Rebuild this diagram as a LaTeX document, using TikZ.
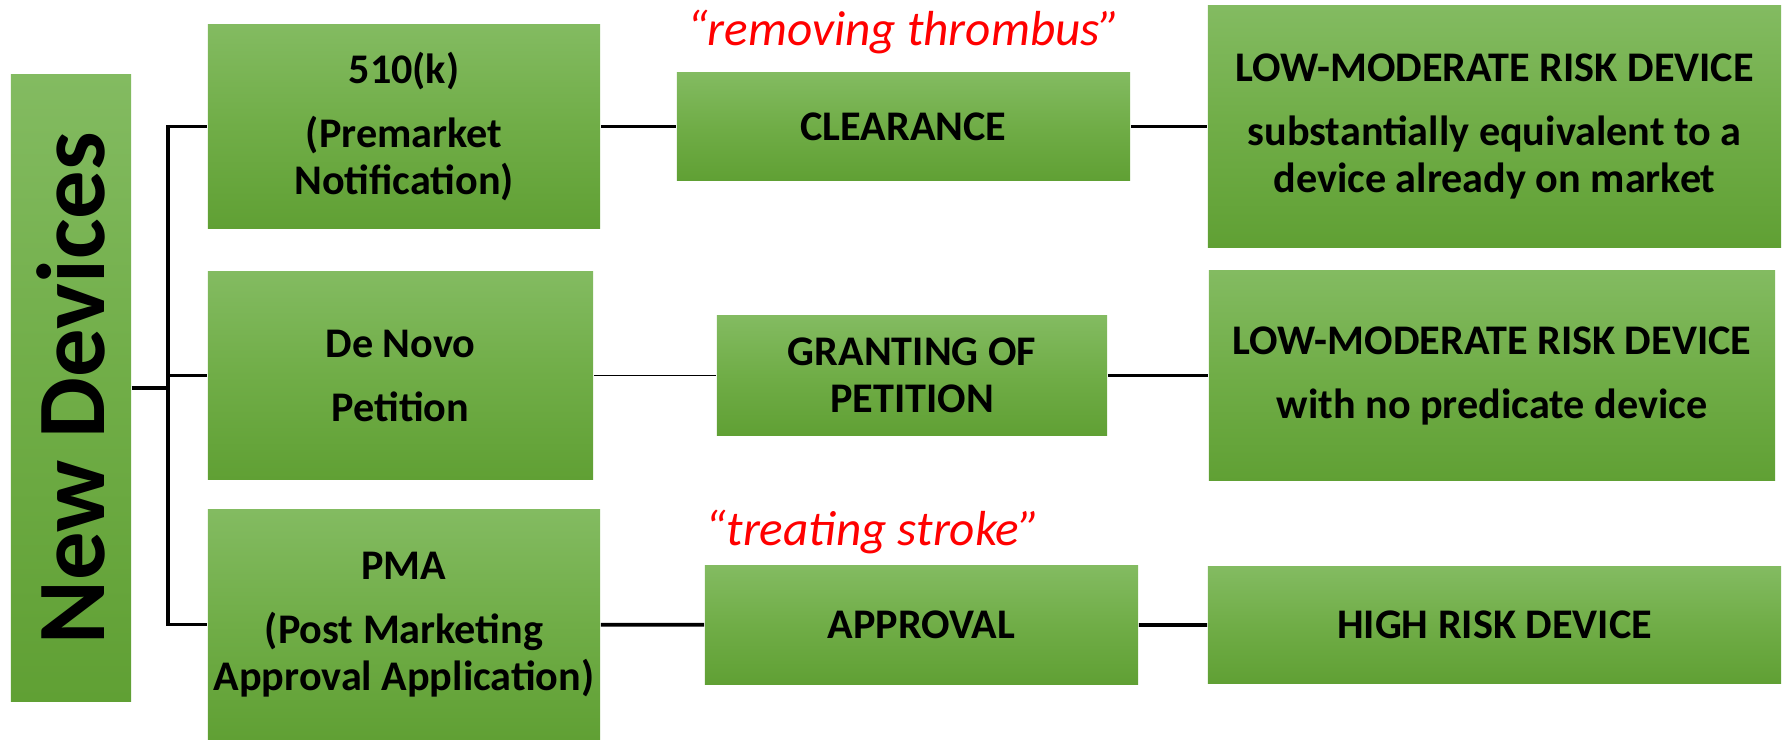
\documentclass[tikz,border=0pt]{standalone}
\usepackage{fontspec}
\setmainfont{Carlito}
\usetikzlibrary{positioning}
\definecolor{gtop}{RGB}{131,187,97}
\definecolor{gmid}{RGB}{112,173,71}
\definecolor{gbot}{RGB}{96,160,52}
\definecolor{notered}{RGB}{255,0,0}
\tikzset{
  gbox/.style={top color=gtop, bottom color=gbot, middle color=gmid, draw=none,
    align=center, inner sep=0pt, font=\bfseries\fontsize{12}{13.2}\selectfont},
  wire/.style={line width=1.1pt, draw=black},
  thinwire/.style={line width=0.5pt, draw=black},
  quote/.style={text=notered, font=\itshape\fontsize{14}{14}\selectfont},
}
\begin{document}
\begin{tikzpicture}[x=0.01cm,y=-0.01cm]
  \useasboundingbox (0,0) rectangle (1784,739);
  % left title
  \node[gbox, minimum width=1.2cm, minimum height=6.26cm] (newdev) at (71,388)
    {\rotatebox{90}{\fontsize{27.5}{27.5}\selectfont New Devices}};
  % first column
  \node[gbox, minimum width=3.92cm, minimum height=2.03cm] (pmn) at (404,126.5)
    {510(k)\\[5pt](Premarket\\Notification)};
  \node[gbox, minimum width=3.85cm, minimum height=2.07cm] (denovo) at (400.5,375.5)
    {De Novo\\[5pt]Petition};
  \node[gbox, minimum width=3.92cm, minimum height=2.29cm] (pma) at (404,624.5)
    {PMA\\[5pt](Post Marketing\\Approval Application)};
  % decisions
  \node[gbox, minimum width=4.53cm, minimum height=1.08cm] (clear) at (903.5,126.5) {CLEARANCE};
  \node[gbox, minimum width=3.9cm, minimum height=1.19cm] (grant) at (912,375.5) {GRANTING OF\\PETITION};
  \node[gbox, minimum width=4.33cm, minimum height=1.18cm] (approv) at (921.5,625) {APPROVAL};
  % risk classes
  \node[gbox, minimum width=5.73cm, minimum height=2.41cm] (lowa) at (1494.5,126.5)
    {LOW-MODERATE RISK DEVICE\\[5pt]substantially equivalent to a\\device already on market};
  \node[gbox, minimum width=5.66cm, minimum height=2.1cm] (lowb) at (1492,375.5)
    {LOW-MODERATE RISK DEVICE\\[5pt]with no predicate device};
  \node[gbox, minimum width=5.73cm, minimum height=1.16cm] (high) at (1494.5,625) {HIGH RISK DEVICE};
  % notes
  \node[quote] (rmv) at (904,32) {“removing thrombus”};
  \node[quote] (trt) at (873,532) {“treating stroke”};
  % connectors
  \coordinate (tk) at (168,388);
  \draw[wire] (newdev.east) -- (tk);
  \draw[wire] (pmn.west) -- (pmn.west -| tk) |- (pma.west);
  \draw[wire] (denovo.west -| tk) -- (denovo.west);
  \draw[wire] (pmn) -- (clear) -- (lowa);
  \draw[thinwire] (denovo) -- (grant);
  \draw[wire] (grant) -- (lowb);
  \draw[wire] (pma) -- (approv) -- (high);
\end{tikzpicture}
\end{document}
